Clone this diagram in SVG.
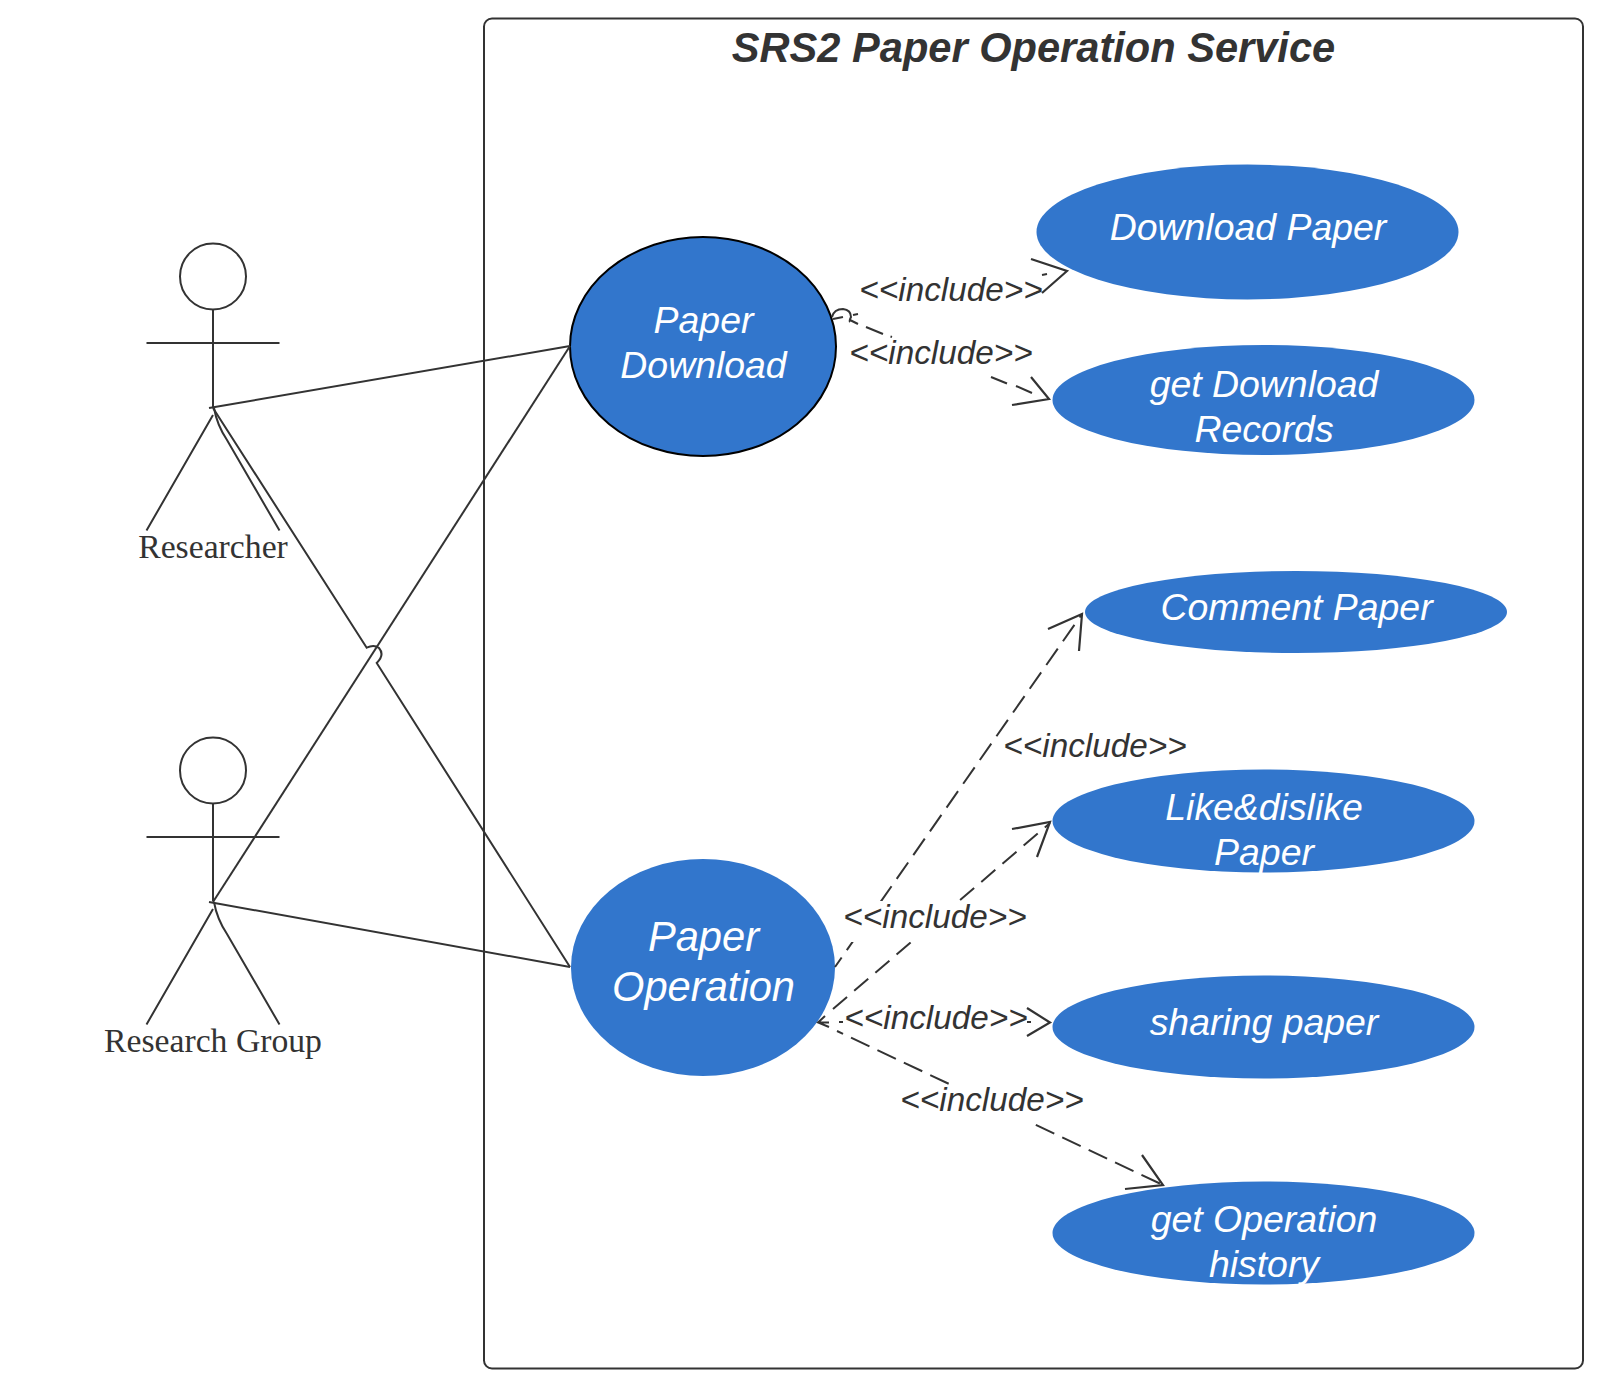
<svg xmlns="http://www.w3.org/2000/svg" width="1614" height="1397" viewBox="0 0 1614 1397">
<style>
.l{fill:none;stroke:#333;stroke-width:2}
.h{fill:none;stroke:#333;stroke-width:2.2}
.u{fill:#3276cc}
.w{fill:#fff}
.t{font-family:"Liberation Sans",Arial,sans-serif;font-style:italic;fill:#fff;text-anchor:middle}
.i{font-family:"Liberation Sans",Arial,sans-serif;font-style:italic;fill:#333;font-size:33.300px;text-anchor:middle}
.a{font-family:"Liberation Serif","Times New Roman",serif;fill:#333;font-size:33.700px;text-anchor:middle}
</style>
<rect width="1614" height="1397" fill="#fff"/>
<g id="system"><rect x="484" y="18.500" width="1099" height="1350" rx="8" class="l"/>
<text x="1033.500" y="62" text-anchor="middle" font-family="'Liberation Sans',Arial,sans-serif" font-style="italic" font-weight="bold" font-size="41.600" fill="#333">SRS2 Paper Operation Service</text></g>
<g id="actor-researcher"><circle cx="213" cy="276.500" r="33" class="l"/><path class="l" d="M213 310V407M146.500 343H279.500M213 415L146.500 530.500M214 408Q217 425 227 440L279.500 530.500"/><text class="a" x="213" y="558">Researcher</text></g>
<g id="actor-group"><circle cx="213" cy="770.500" r="33" class="l"/><path class="l" d="M213 804V901M146.500 837H279.500M213 909L146.500 1024.500M214 902Q217 919 227 934L279.500 1024.500"/><text class="a" x="213" y="1052">Research Group</text></g>
<g id="paper-download"><ellipse cx="703" cy="346.500" rx="133" ry="109.500" class="u" stroke="#000" stroke-width="2"/><text class="t" font-size="37.400"><tspan x="703.500" y="333">Paper</tspan><tspan x="703.500" y="378">Download</tspan></text></g>
<g id="paper-operation"><ellipse cx="703" cy="967.500" rx="132" ry="108.500" class="u"/><text class="t" font-size="41.700"><tspan x="703.500" y="951">Paper</tspan><tspan x="703.500" y="1001">Operation</tspan></text></g>
<g id="download-paper"><ellipse cx="1247.500" cy="232" rx="211" ry="67.500" class="u"/><text class="t" font-size="37.400" x="1248" y="240">Download Paper</text></g>
<g id="get-download-records"><ellipse cx="1263.500" cy="400" rx="211" ry="55" class="u"/><text class="t" font-size="37.400"><tspan x="1264" y="397">get Download</tspan><tspan x="1264" y="442">Records</tspan></text></g>
<g id="comment-paper"><ellipse cx="1296" cy="612" rx="211" ry="41" class="u"/><text class="t" font-size="37.400" x="1296.500" y="620">Comment Paper</text></g>
<g id="like-dislike"><ellipse cx="1263.500" cy="821" rx="211" ry="51.500" class="u"/><text class="t" font-size="37.400"><tspan x="1264" y="820">Like&amp;dislike</tspan><tspan x="1264" y="865">Paper</tspan></text></g>
<g id="sharing-paper"><ellipse cx="1263.500" cy="1027" rx="211" ry="51.500" class="u"/><text class="t" font-size="37.400" x="1264" y="1035">sharing paper</text></g>
<g id="get-operation-history"><ellipse cx="1263.500" cy="1233" rx="211" ry="51.500" class="u"/><text class="t" font-size="37.400"><tspan x="1264" y="1232">get Operation</tspan><tspan x="1264" y="1277">history</tspan></text></g>
<g id="connectors">
<path class="l" d="M209 408L570 346"/>
<path class="l" d="M213 408L366.700 647.700Q374 644 379 648Q385 655 376.700 663L570 967"/>
<path class="l" d="M213 902L570 346"/>
<path class="l" d="M209 902L570 967"/>
<path class="l" d="M832 317Q834 309 843 309Q851 310 851 317Q849 321 850 322"/>
<path class="l" d="M833 319L843 317M853 315L858 314M850 320L858 324M866 327L883 334M890.500 336.500L892 337"/>
<path class="l" d="M991 377L1007 383.500M1016 386L1032 393"/>
<path class="l" d="M1042 275L1047 274"/>
<path class="h" d="M1031 259L1067 271L1042 293"/>
<path class="h" d="M1031 377L1049 399L1012 405"/>
<path class="l" d="M835 967L1082 614" stroke-dasharray="20 9" stroke-dashoffset="8.400"/>
<path class="h" d="M1048 629L1082 614L1079 651"/>
<path class="l" d="M833 1009L1050 823" stroke-dasharray="18.500 9.400"/>
<path class="h" d="M1012 829L1050 822L1037 857"/>
<path class="l" d="M1027 1022H1031"/>
<path class="h" d="M1027 1008L1050 1022.500L1027 1036"/>
<path class="l" d="M818 1022.500H829M825 1016L818 1022.500L829 1027M839 1022H843"/>
<path class="l" d="M837 1031L1163 1185" stroke-dasharray="20.400 8.800" stroke-dashoffset="13.700"/>
<path class="h" d="M1125 1189L1163 1185L1142 1155"/>
</g>
<g id="labels">
<text class="i" x="951" y="301">&lt;&lt;include&gt;&gt;</text>
<text class="i" x="941" y="364">&lt;&lt;include&gt;&gt;</text>
<text class="i" x="1095" y="757">&lt;&lt;include&gt;&gt;</text>
<rect class="w" x="844" y="901" width="184" height="41"/>
<text class="i" x="935" y="928">&lt;&lt;include&gt;&gt;</text>
<text class="i" x="936" y="1029">&lt;&lt;include&gt;&gt;</text>
<rect class="w" x="900" y="1085" width="184" height="39"/>
<text class="i" x="992" y="1111">&lt;&lt;include&gt;&gt;</text>
</g>
</svg>
